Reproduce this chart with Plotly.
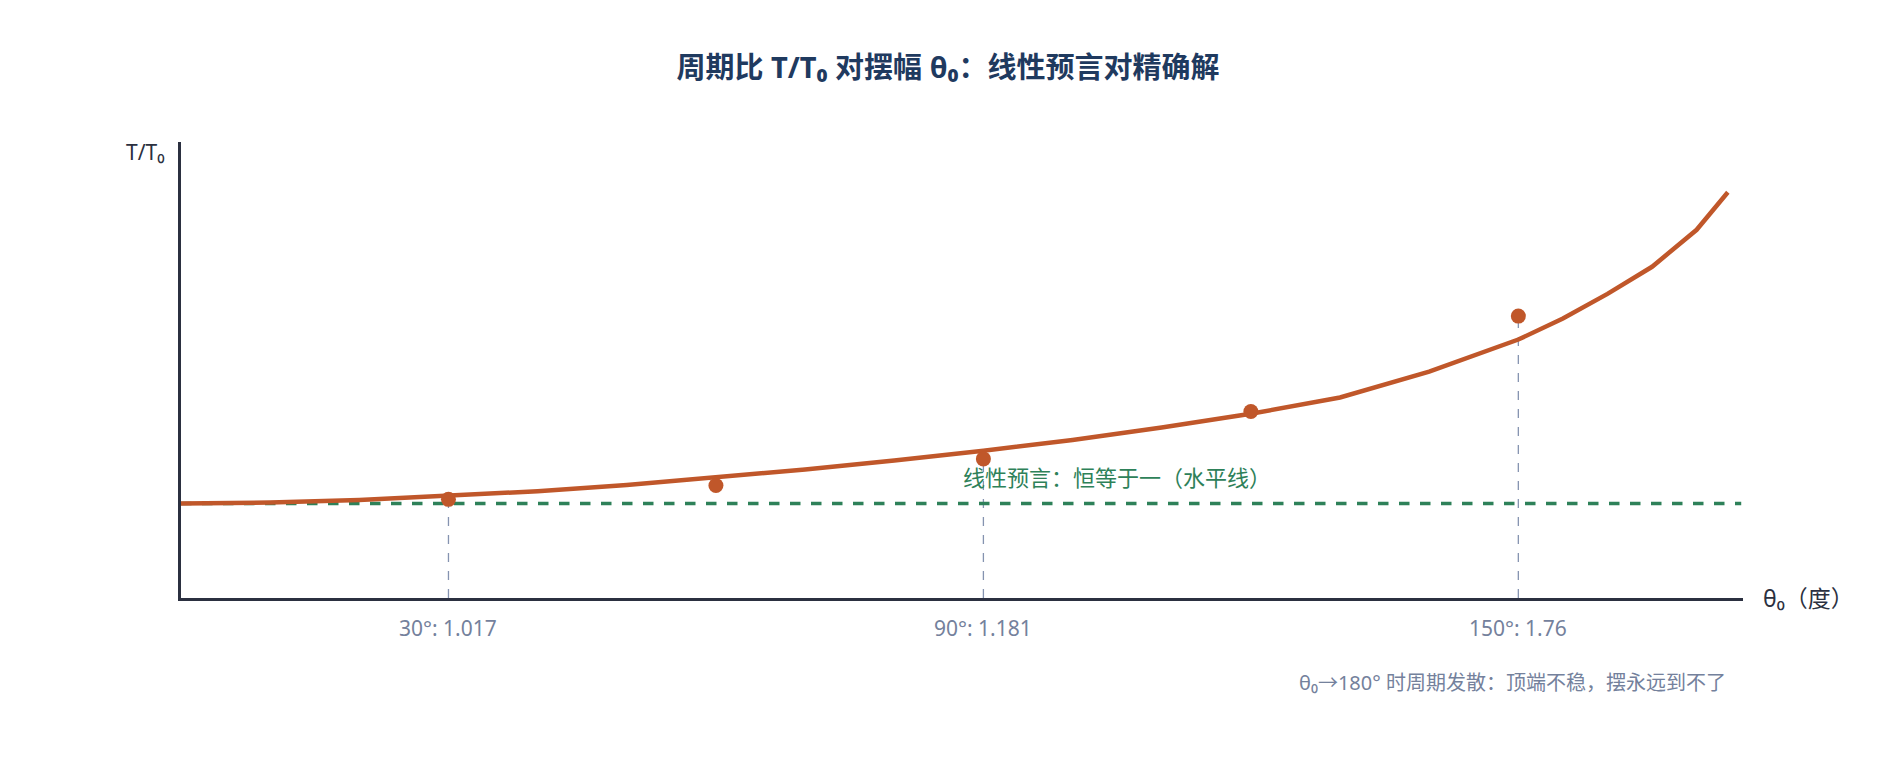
import plotly.graph_objects as go

# Data
curve_theta = [0, 10, 20, 30, 40, 50, 60, 70, 80, 90, 100, 110, 120, 130, 140, 150, 155, 160, 165, 170, 173.5]
curve_ratio = [1.0, 1.004, 1.014, 1.03, 1.05, 1.075, 1.105, 1.138, 1.175, 1.214, 1.258, 1.308, 1.364, 1.43, 1.535, 1.665, 1.75, 1.85, 1.96, 2.11, 2.262]

exact_theta = [30, 60, 90, 120, 150]
exact_ratio = [1.017, 1.073, 1.181, 1.373, 1.76]

label_theta = [30, 90, 150]
label_ratio = [1.017, 1.181, 1.76]
label_text = ["30°: 1.017", "90°: 1.181", "150°: 1.76"]

FONT = "Noto Sans, Noto Sans CJK SC"
ORANGE = "#c0572a"
GREEN = "#2e8159"
GREY = "#8593b0"
AXIS = "#2b3040"

fig = go.Figure()

# vertical guide lines
for t, r in zip(label_theta, label_ratio):
    fig.add_trace(go.Scatter(x=[t, t], y=[0.617, r], mode="lines",
                             line=dict(color=GREY, width=1.3, dash="dash"),
                             showlegend=False, hoverinfo="skip"))

fig.add_trace(go.Scatter(x=[0, 175], y=[1.0, 1.0], mode="lines",
                         line=dict(color=GREEN, width=3.5, dash="dash"),
                         showlegend=False))
fig.add_trace(go.Scatter(x=curve_theta, y=curve_ratio, mode="lines",
                         line=dict(color=ORANGE, width=4.5),
                         showlegend=False))
fig.add_trace(go.Scatter(x=exact_theta, y=exact_ratio, mode="markers",
                         marker=dict(color=ORANGE, size=15),
                         showlegend=False))

annotations = []
for t, txt in zip(label_theta, label_text):
    annotations.append(dict(x=t, y=0.617, yshift=-30, text=txt, showarrow=False,
                            font=dict(size=21, color="#74819c", family=FONT)))
annotations += [
    dict(x=105, y=1.107, text="线性预言：恒等于一（水平线）", showarrow=False,
         font=dict(size=22, color=GREEN, family=FONT)),
    dict(x=0, y=2.466, xshift=-36, yshift=-10, text="T/T₀", showarrow=False,
         font=dict(size=21, color=AXIS, family=FONT)),
    dict(x=175.2, y=0.617, xanchor="left", xshift=18, text="θ₀（度）", showarrow=False,
         font=dict(size=23, color=AXIS, family=FONT)),
    dict(x=173.5, y=0.617, xanchor="right", yshift=-84,
         text="θ₀→180° 时周期发散：顶端不稳，摆永远到不了", showarrow=False,
         font=dict(size=20, color="#74819c", family=FONT)),
]

fig.update_layout(
    width=1880, height=760,
    plot_bgcolor="white", paper_bgcolor="white",
    margin=dict(l=173, r=145, t=134, b=170),
    title=dict(text="<b>周期比 T/T₀ 对摆幅 θ₀：线性预言对精确解</b>", x=0.5, y=0.935,
               font=dict(size=29, color="#1f3a5f", family=FONT)),
    annotations=annotations,
    font=dict(family=FONT),
)
fig.update_xaxes(range=[0, 175.2], showgrid=False, zeroline=False, showticklabels=False,
                 showline=True, linecolor=AXIS, linewidth=3)
fig.update_yaxes(range=[0.617, 2.466], showgrid=False, zeroline=False, showticklabels=False,
                 showline=True, linecolor=AXIS, linewidth=3)

fig.write_html("out.html")
